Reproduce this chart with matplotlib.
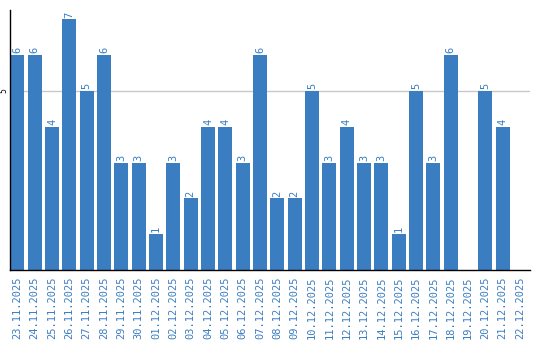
import numpy as np
import matplotlib
matplotlib.use("Agg")
import matplotlib.pyplot as plt

# Datos del gráfico
fechas = ["23.11.2025", "24.11.2025", "25.11.2025", "26.11.2025", "27.11.2025",
          "28.11.2025", "29.11.2025", "30.11.2025", "01.12.2025", "02.12.2025",
          "03.12.2025", "04.12.2025", "05.12.2025", "06.12.2025", "07.12.2025",
          "08.12.2025", "09.12.2025", "10.12.2025", "11.12.2025", "12.12.2025",
          "13.12.2025", "14.12.2025", "15.12.2025", "16.12.2025", "17.12.2025",
          "18.12.2025", "19.12.2025", "20.12.2025", "21.12.2025", "22.12.2025"]
valores = [6, 6, 4, 7, 5, 6, 3, 3, 1, 3, 2, 4, 4, 3, 6,
           2, 2, 5, 3, 4, 3, 3, 1, 5, 3, 6, 0, 5, 4, 0]

azul = "#3b7dc1"

fig = plt.figure(figsize=(5.4, 3.4), dpi=100)
ax = fig.add_axes([10 / 540, 70 / 340, 520 / 540, 260 / 340])

x = np.arange(len(fechas))
ax.bar(x, valores, width=0.8, color=azul, zorder=2)

# Etiquetas de valor sobre cada barra
for xi, v in zip(x, valores):
    if v > 0:
        ax.text(xi, v + 0.05, str(v), rotation=90, ha="center", va="bottom",
                color=azul, fontsize=7.5, family="DejaVu Sans Mono")

ax.set_xlim(-0.42, len(fechas) - 0.42)
ax.set_ylim(0, 7.26)
ax.set_yticks([5])
ax.set_yticklabels(["5"], rotation=90, va="center", fontsize=5.5)
ax.yaxis.grid(True, color="#c8c8c8", linewidth=1, zorder=0)
ax.tick_params(axis="y", length=0, pad=1)

ax.set_xticks(x)
ax.set_xticklabels(fechas, rotation=90, color=azul, fontsize=7.5,
                   family="DejaVu Sans Mono")
ax.tick_params(axis="x", length=0, pad=5)

ax.spines["top"].set_visible(False)
ax.spines["right"].set_visible(False)
ax.spines["left"].set_linewidth(1)
ax.spines["bottom"].set_linewidth(1)

fig.savefig("out.png", dpi=100)
plt.close(fig)
